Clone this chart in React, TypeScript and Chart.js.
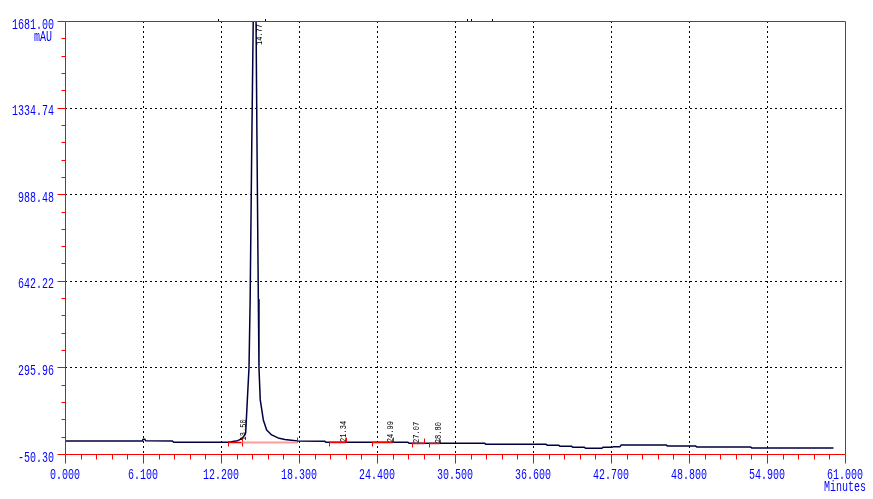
import React, { useEffect, useRef } from 'react';
import { Chart, registerables } from 'chart.js';

Chart.register(...registerables);

// chromatogram trace (minutes / mAU)
const retentionTimes = [
    0, 5.95, 6.05, 6.1, 6.25, 6.3, 8.4, 8.5, 12.7, 13.0, 13.5, 13.8, 14.0, 14.13, 14.26, 14.39,
    14.48, 14.6, 14.72, 14.8, 14.94, 15.02, 15.12, 15.17, 15.27, 15.51, 15.77, 16.16, 16.66,
    17.2, 18.2, 20.3, 20.4, 26.8, 26.9, 32.8, 32.9, 37.6, 37.7, 38.6, 38.7, 39.6, 39.7, 40.6,
    40.7, 42.0, 42.1, 42.8, 42.9, 43.4, 43.5, 47.0, 47.1, 49.3, 49.4, 53.6, 53.7, 60.1,
];
const absorbance = [
    2, 2, 2, 9, 9, 3, 2, -3, -3, -1, 3, 10, 22, 34, 166, 294,
    567, 1156, 1681, 2000, 1681, 1156, 567, 294, 166, 86, 46, 26, 14,
    8, 2, 1, -3, -3, -7, -7, -11, -11, -15, -15, -19, -19, -23, -23,
    -27, -27, -23, -23, -21, -21, -14, -14, -18, -18, -22, -22, -26, -26,
];

const xTickValues = [0, 6.1, 12.2, 18.3, 24.4, 30.5, 36.6, 42.7, 48.8, 54.9, 61];
const xTickLabels = ['0.000', '6.100', '12.200', '18.300', '24.400', '30.500', '36.600', '42.700', '48.800', '54.900', '61.000'];
const yTickValues = [-50.3, 295.96, 642.22, 988.48, 1334.74, 1681];
const yTickLabels = ['-50.30', '295.96', '642.22', '988.48', '1334.74', '1681.00'];

const peakTimes = [13.5, 14.77, 21.34, 24.99, 27.07, 28.8];
const peakLabels = ['13.50', '14.77', '21.34', '24.99', '27.07', '28.80'];
const peakHeights = [4, 2000, -2, -3, -6, -7];

// integration baselines
const baseStarts = [12.77, 13.82, 20.67, 23.99, 27.11, 28.49];
const baseEnds = [13.82, 18.17, 21.95, 25.63, 28.08, 29.27];
const baseLevels = [-3, -3, -3, -3, -7, -7];
const baseColors = ['#ff0000', '#ff9c9c', '#ff0000', '#ff0000', '#ff0000', '#ff0000'];

const eventTimes = [11.97, 15.67, 31.41, 31.75, 33.37];

const RED = '#ff0000';
const BLUE = '#0000ff';
const MONO = '"Liberation Mono", "DejaVu Sans Mono", monospace';

const stretchText = (ctx: CanvasRenderingContext2D, text: string, x: number, y: number, sy: number) => {
    ctx.save();
    ctx.translate(x, y);
    ctx.scale(1, sy);
    ctx.fillText(text, 0, 0);
    ctx.restore();
};

const overlay = {
    id: 'chromOverlay',
    beforeDatasetsDraw(chart: any) {
        const { ctx, chartArea: a, scales } = chart;
        ctx.save();
        ctx.strokeStyle = '#000000';
        ctx.lineWidth = 1;
        ctx.setLineDash([2, 3]);
        xTickValues.slice(1, -1).forEach((v) => {
            const px = Math.round(scales.x.getPixelForValue(v)) + 0.5;
            ctx.beginPath();
            ctx.moveTo(px, a.top);
            ctx.lineTo(px, a.bottom);
            ctx.stroke();
        });
        yTickValues.slice(1, -1).forEach((v) => {
            const py = Math.round(scales.y.getPixelForValue(v)) + 0.5;
            ctx.beginPath();
            ctx.moveTo(a.left, py);
            ctx.lineTo(a.right, py);
            ctx.stroke();
        });
        ctx.restore();
    },
    afterDatasetsDraw(chart: any) {
        const { ctx, chartArea: a, scales } = chart;
        const xs = scales.x;
        const ys = scales.y;
        ctx.save();

        // integration baselines
        baseStarts.forEach((s, i) => {
            const x1 = xs.getPixelForValue(s);
            const x2 = xs.getPixelForValue(baseEnds[i]);
            const py = Math.round(ys.getPixelForValue(baseLevels[i])) + 0.5;
            ctx.strokeStyle = baseColors[i];
            ctx.lineWidth = i === 1 ? 2 : 1.5;
            ctx.beginPath();
            ctx.moveTo(x1, py);
            ctx.lineTo(x2, py);
            ctx.stroke();
            ctx.strokeStyle = RED;
            ctx.lineWidth = 1;
            ctx.beginPath();
            ctx.moveTo(Math.round(x1) + 0.5, py);
            ctx.lineTo(Math.round(x1) + 0.5, py + 4);
            ctx.moveTo(Math.round(x2) + 0.5, py);
            ctx.lineTo(Math.round(x2) + 0.5, py - 5);
            ctx.stroke();
        });

        // peak labels
        ctx.fillStyle = '#000000';
        ctx.font = `7px ${MONO}`;
        ctx.textAlign = 'left';
        ctx.textBaseline = 'top';
        peakTimes.forEach((t, i) => {
            const px = xs.getPixelForValue(t);
            const len = ctx.measureText(peakLabels[i]).width;
            let py = ys.getPixelForValue(peakHeights[i]);
            if (py - len < a.top) py = a.top + len + 3;
            ctx.save();
            ctx.translate(px + 1, py);
            ctx.rotate(-Math.PI / 2);
            ctx.scale(1, 1.3);
            ctx.fillText(peakLabels[i], 0, 0);
            ctx.restore();
        });

        // event marks above the frame
        ctx.strokeStyle = '#000000';
        ctx.lineWidth = 1;
        eventTimes.forEach((t) => {
            const px = Math.round(xs.getPixelForValue(t)) + 0.5;
            ctx.beginPath();
            ctx.moveTo(px, a.top - 2);
            ctx.lineTo(px, a.top);
            ctx.stroke();
        });

        // red frame
        const L = Math.round(a.left) + 0.5;
        const R = Math.round(a.right) + 0.5;
        const T = Math.round(a.top) + 0.5;
        const B = Math.round(a.bottom) + 0.5;
        ctx.strokeStyle = RED;
        ctx.lineWidth = 1;
        ctx.beginPath();
        ctx.moveTo(L, T);
        ctx.lineTo(R, T);
        ctx.lineTo(R, B);
        ctx.lineTo(L, B);
        ctx.closePath();
        ctx.stroke();

        // x ticks
        ctx.beginPath();
        xTickValues.forEach((v, i) => {
            const px = Math.round(xs.getPixelForValue(v)) + 0.5;
            ctx.moveTo(px, B);
            ctx.lineTo(px, B + 9);
            if (i < xTickValues.length - 1) {
                const step = (xTickValues[i + 1] - v) / 5;
                for (let k = 1; k < 5; k++) {
                    const mx = Math.round(xs.getPixelForValue(v + step * k)) + 0.5;
                    ctx.moveTo(mx, B);
                    ctx.lineTo(mx, B + 5);
                }
            }
        });
        // y ticks
        yTickValues.forEach((v, i) => {
            const py = Math.round(ys.getPixelForValue(v)) + 0.5;
            ctx.moveTo(L, py);
            ctx.lineTo(L - 8, py);
            if (i < yTickValues.length - 1) {
                const step = (yTickValues[i + 1] - v) / 5;
                for (let k = 1; k < 5; k++) {
                    const my = Math.round(ys.getPixelForValue(v + step * k)) + 0.5;
                    ctx.moveTo(L, my);
                    ctx.lineTo(L - 4, my);
                }
            }
        });
        ctx.stroke();

        // tick labels
        ctx.fillStyle = BLUE;
        ctx.font = `10px ${MONO}`;
        ctx.textBaseline = 'alphabetic';
        ctx.textAlign = 'center';
        xTickValues.forEach((v, i) => {
            stretchText(ctx, xTickLabels[i], xs.getPixelForValue(v), B + 24, 1.45);
        });
        stretchText(ctx, 'Minutes', a.right, B + 36, 1.45);
        ctx.textAlign = 'right';
        yTickValues.forEach((v, i) => {
            stretchText(ctx, yTickLabels[i], a.left - 11, ys.getPixelForValue(v) + 7.5, 1.45);
        });
        stretchText(ctx, 'mAU', a.left - 13, a.top + 19.5, 1.45);

        ctx.restore();
    },
};

const Chromatogram: React.FC = () => {
    const canvasRef = useRef<HTMLCanvasElement>(null);
    const chartRef = useRef<Chart | null>(null);

    useEffect(() => {
        if (!canvasRef.current) return;
        const ctx = canvasRef.current.getContext('2d');
        if (!ctx) return;
        if (chartRef.current) chartRef.current.destroy();

        chartRef.current = new Chart(ctx, {
            type: 'line',
            data: {
                datasets: [
                    {
                        label: 'mAU',
                        data: retentionTimes.map((t, i) => ({ x: t, y: absorbance[i] })),
                        borderColor: '#00003f',
                        borderWidth: 1.5,
                        borderJoinStyle: 'round',
                        pointRadius: 0,
                        tension: 0,
                        fill: false,
                    },
                ],
            },
            options: {
                responsive: true,
                maintainAspectRatio: false,
                animation: false,
                layout: { padding: { left: 65, right: 28, top: 21, bottom: 45 } },
                plugins: {
                    legend: { display: false },
                    tooltip: { enabled: false },
                },
                scales: {
                    x: { type: 'linear', min: 0, max: 61, display: false },
                    y: { type: 'linear', min: -50.3, max: 1681, display: false },
                },
            },
            plugins: [overlay],
        });

        return () => {
            if (chartRef.current) {
                chartRef.current.destroy();
                chartRef.current = null;
            }
        };
    }, []);

    return <canvas ref={canvasRef}></canvas>;
};

export default function App() {
    return (
        <div style={{ position: 'fixed', left: 0, top: 0, width: 873, height: 499, background: '#ffffff' }}>
            <Chromatogram />
        </div>
    );
}
